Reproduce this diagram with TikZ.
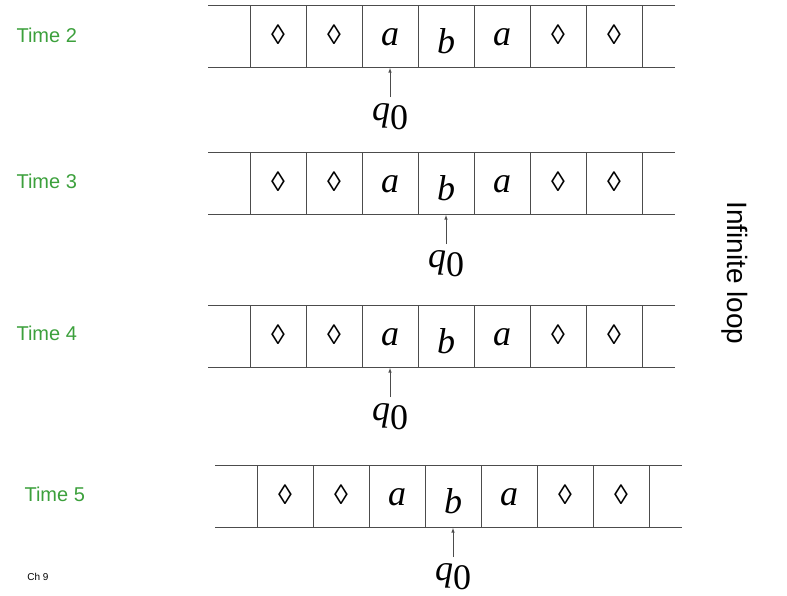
\documentclass[tikz,border=0pt]{standalone}
\usepackage{fontspec}
\setmainfont{Liberation Serif}
\setsansfont{Liberation Sans}
\newfontfamily\dvs{DejaVu Sans}
\definecolor{tgreen}{RGB}{60,160,60}
\begin{document}
\begin{tikzpicture}[x=1pt,y=-1pt,
  tl/.style={draw=black!70,line width=0.6pt},
  sym/.style={font=\fontsize{36}{38}\selectfont\itshape},
  dia/.style={font=\fontsize{28}{30}\selectfont},
  lab/.style={font=\sffamily\fontsize{20}{24}\selectfont,text=tgreen},
  hd/.style={-latex,draw=black!70,line width=0.6pt}]
\useasboundingbox (0,0) rectangle (787,595);
\newcommand\tapeat[4]{% x0, ytop, head index, name
 \begin{scope}[shift={(#1,#2)}]
  \draw[tl] (0,0) -- (467,0) (0,62) -- (467,62);
  \foreach \i in {0,...,7} \draw[tl] (42+56*\i,0) -- (42+56*\i,62);
  \foreach \i in {0,1,5,6}
    \node[dia] (#4d\i) at (70+56*\i,30) {◊};
  \node[sym] (#4c2) at (182,32) {a};
  \node[sym] (#4c3) at (238,36) {b};
  \node[sym] (#4c4) at (294,32) {a};
  \coordinate (#4t) at (70+56*#3,63);
  \coordinate (#4s) at (70+56*#3,92);
  \node[sym,inner sep=0pt] (#4q) at (70+56*#3,112) {q\raisebox{-0.25em}{\upshape 0}};
  \draw[hd] (#4s) -- (#4t);
 \end{scope}}
\tapeat{208}{5}{2}{A}
\tapeat{208}{152}{3}{B}
\tapeat{208}{305}{2}{C}
\tapeat{215}{465}{3}{D}
\node[lab,anchor=west] (l2) at (13,35) {Time 2};
\node[lab,anchor=west] (l3) at (13,181) {Time 3};
\node[lab,anchor=west] (l4) at (13,333) {Time 4};
\node[lab,anchor=west] (l5) at (21,494) {Time 5};
\node[font=\sffamily\fontsize{28}{30}\selectfont,rotate=-90] (il) at (735,273) {Infinite loop};
\node[font=\sffamily\fontsize{10}{12}\selectfont] (ch) at (38,577) {Ch 9};
\end{tikzpicture}
\end{document}
